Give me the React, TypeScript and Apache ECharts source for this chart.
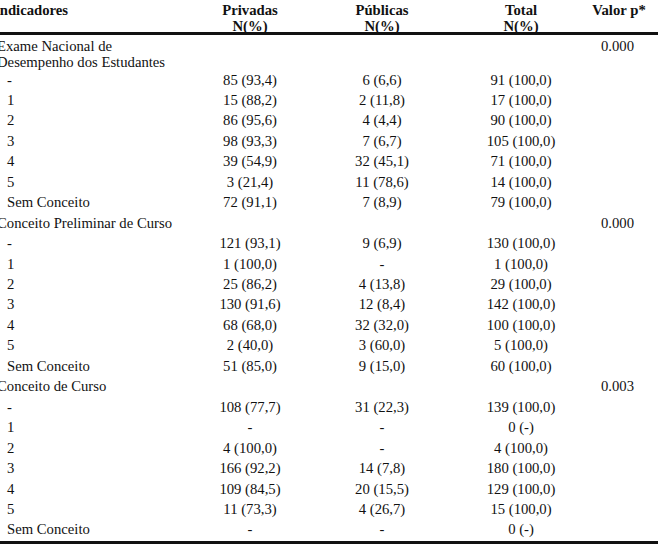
import React, { useEffect, useRef } from "react";
import * as echarts from "echarts";

const headers = ["Indicadores", "Privadas", "Públicas", "Total", "Valor p*"];
const subHeader = "N(%)";
const groupTitles = ["Exame Nacional de\nDesempenho dos Estudantes", "Conceito Preliminar de Curso", "Conceito de Curso"];
const rowLabels = ["-", "1", "2", "3", "4", "5", "Sem Conceito"];
const pValues = ["0.000", "0.000", "0.003"];

const privadasN = [85, 15, 86, 98, 39, 3, 72, 121, 1, 25, 130, 68, 2, 51, 108, null, 4, 166, 109, 11, null];
const privadasPct = [93.4, 88.2, 95.6, 93.3, 54.9, 21.4, 91.1, 93.1, 100.0, 86.2, 91.6, 68.0, 40.0, 85.0, 77.7, null, 100.0, 92.2, 84.5, 73.3, null];
const publicasN = [6, 2, 4, 7, 32, 11, 7, 9, null, 4, 12, 32, 3, 9, 31, null, null, 14, 20, 4, null];
const publicasPct = [6.6, 11.8, 4.4, 6.7, 45.1, 78.6, 8.9, 6.9, null, 13.8, 8.4, 32.0, 60.0, 15.0, 22.3, null, null, 7.8, 15.5, 26.7, null];
const totalN = [91, 17, 90, 105, 71, 14, 79, 130, 1, 29, 142, 100, 5, 60, 139, 0, 4, 180, 129, 15, 0];
const totalPct = [100, 100, 100, 100, 100, 100, 100, 100, 100, 100, 100, 100, 100, 100, 100, null, 100, 100, 100, 100, null];

const FONT = "'Liberation Serif', 'Times New Roman', serif";
const FS = 14.7;
const COLOR = "#111";

function fmt(n: number | null, p: number | null): string {
  if (n === null) return "-";
  if (p === null) return `${n} (-)`;
  return `${n} (${p.toFixed(1).replace(".", ",")})`;
}

function buildGraphics() {
  const els: any[] = [];
  const text = (t: string, x: number, y: number, align: string, bold = false) =>
    els.push({
      type: "text",
      x,
      y,
      style: {
        text: t,
        fill: COLOR,
        font: `${bold ? "bold " : ""}${FS}px ${FONT}`,
        align,
        verticalAlign: "middle",
      },
    });

  const colX = [-6, 250, 382, 521, 619];
  const valX = [250, 382, 521];
  const pX = 617.5;
  const rowY = (k: number) => 79.5 + 20.45 * k;

  // header
  text(headers[0], colX[0], 9.5, "left", true);
  for (let c = 1; c < 5; c++) text(headers[c], colX[c], 9.5, "center", true);
  for (let c = 1; c < 4; c++) text(subHeader, colX[c], 25.5, "center", true);

  els.push({ type: "rect", shape: { x: 0, y: 32, width: 658, height: 3 }, style: { fill: COLOR } });
  els.push({ type: "rect", shape: { x: 0, y: 541, width: 658, height: 3 }, style: { fill: COLOR } });

  groupTitles.forEach((title, g) => {
    const yTitle = g === 0 ? 45.5 : rowY(8 * g - 1);
    title.split("\n").forEach((line, j) => text(line, -3, yTitle + j * 16.5, "left"));
    text(pValues[g], pX, yTitle, "center");
    rowLabels.forEach((lab, i) => {
      const idx = g * rowLabels.length + i;
      const y = rowY(8 * g + i);
      text(lab, 7, y, "left");
      text(fmt(privadasN[idx], privadasPct[idx]), valX[0], y, "center");
      text(fmt(publicasN[idx], publicasPct[idx]), valX[1], y, "center");
      text(fmt(totalN[idx], totalPct[idx]), valX[2], y, "center");
    });
  });
  return els;
}

export default function App() {
  const ref = useRef<HTMLDivElement>(null);
  useEffect(() => {
    if (!ref.current) return;
    const chart = echarts.init(ref.current, undefined, { renderer: "svg" });
    chart.setOption({
      animation: false,
      backgroundColor: "#ffffff",
      graphic: { elements: buildGraphics() },
    });
    return () => chart.dispose();
  }, []);
  return (
    <div
      ref={ref}
      style={{ position: "fixed", left: 0, top: 0, width: 658, height: 546, background: "#fff" }}
    />
  );
}
